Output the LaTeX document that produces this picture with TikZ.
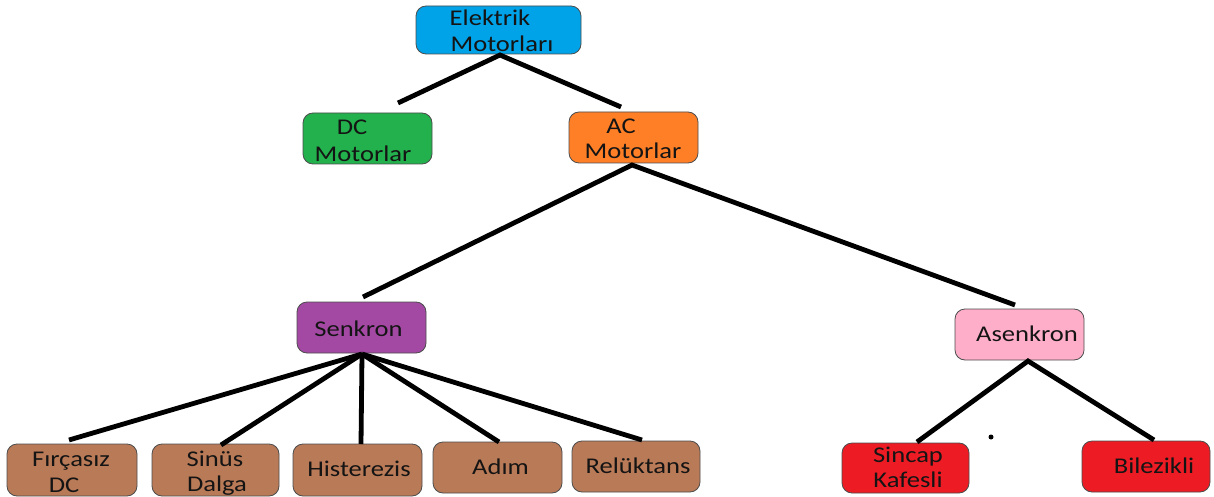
\documentclass[tikz,border=0pt]{standalone}
\usepackage{fontspec}
\setmainfont{Carlito}[FakeStretch=1.18]
\definecolor{cElek}{RGB}{0,162,232}
\definecolor{cDC}{RGB}{34,177,76}
\definecolor{cAC}{RGB}{255,127,39}
\definecolor{cSenk}{RGB}{163,73,164}
\definecolor{cAsenk}{RGB}{255,174,201}
\definecolor{cBrown}{RGB}{185,122,87}
\definecolor{cRed}{RGB}{237,28,36}
\definecolor{cText}{RGB}{20,20,20}
\tikzset{
  box/.style={draw=black!70, line width=0.8pt, rounded corners=10pt, inner sep=0pt},
  lbl/.style={anchor=base, inner sep=0pt, text=cText, font=\fontsize{22.5}{27}\selectfont},
  link/.style={line width=4.8pt, black}
}
\begin{document}
\begin{tikzpicture}[x=1pt,y=-1pt]
\useasboundingbox (0,0) rectangle (1214,497);

% boxes
\node[box, fill=cElek,  minimum width=165pt, minimum height=48pt] (elek)  at (498.5,30) {};
\node[box, fill=cDC,    minimum width=129pt, minimum height=51pt] (dc)    at (367.5,138.5) {};
\node[box, fill=cAC,    minimum width=129pt, minimum height=51pt] (ac)    at (633.5,137.5) {};
\node[box, fill=cSenk,  minimum width=129pt, minimum height=51pt] (senk)  at (361.5,327.5) {};
\node[box, fill=cAsenk, minimum width=129pt, minimum height=51pt] (asenk) at (1019.5,334.5) {};
\node[box, fill=cBrown, minimum width=130pt, minimum height=52pt] (firc)  at (72,470) {};
\node[box, fill=cBrown, minimum width=127pt, minimum height=52pt] (sinus) at (215.5,470) {};
\node[box, fill=cBrown, minimum width=129pt, minimum height=52pt] (hist)  at (357.5,470) {};
\node[box, fill=cBrown, minimum width=129pt, minimum height=51pt] (adim)  at (497.5,467.5) {};
\node[box, fill=cBrown, minimum width=128pt, minimum height=51pt] (rel)   at (636,466.5) {};
\node[box, fill=cRed,   minimum width=127pt, minimum height=50pt] (sinc)  at (905.5,468) {};
\node[box, fill=cRed,   minimum width=128pt, minimum height=51pt] (bilez) at (1146,466.5) {};

% labels
\node[lbl] (elek-1)  at (490,26)  {Elektrik};
\node[lbl] (elek-2)  at (502,52)  {Motorları};
\node[lbl] (dc-1)    at (352,135) {DC};
\node[lbl] (dc-2)    at (363,161) {Motorlar};
\node[lbl] (ac-1)    at (621,134) {AC};
\node[lbl] (ac-2)    at (633,159) {Motorlar};
\node[lbl] (senk-1)  at (358.5,336) {Senkron};
\node[lbl] (asenk-1) at (1027,341) {Asenkron};
\node[lbl] (firc-1)  at (71,466)  {Fırçasız};
\node[lbl] (firc-2)  at (64,492)  {DC};
\node[lbl] (sinus-1) at (215,466) {Sinüs};
\node[lbl] (sinus-2) at (217,491) {Dalga};
\node[lbl] (hist-1)  at (359,476) {Histerezis};
\node[lbl] (adim-1)  at (500.5,474) {Adım};
\node[lbl] (rel-1)   at (638,473) {Relüktans};
\node[lbl] (sinc-1)  at (908,462) {Sincap};
\node[lbl] (sinc-2)  at (908,487) {Kafesli};
\node[lbl] (bilez-1) at (1154,473) {Bilezikli};

% branch points under the parent boxes
\coordinate (elek-b)  at (500,55);
\coordinate (ac-b)    at (632,165);
\coordinate (senk-b)  at (362,354);
\coordinate (asenk-b) at (1028,361);
% line ends just above the child boxes
\coordinate (dc-t)    at (398,103);
\coordinate (ac-t)    at (621,107);
\coordinate (senk-t)  at (363,297);
\coordinate (asenk-t) at (1015,305);
\coordinate (firc-t)  at (69,440);
\coordinate (sinus-t) at (221,445);
\coordinate (hist-t)  at (361,444);
\coordinate (adim-t)  at (499,442);
\coordinate (rel-t)   at (642,440);
\coordinate (sinc-t)  at (917,442);
\coordinate (bilez-t) at (1154,440);

% connectors
\draw[link] (dc-t) -- (elek-b) -- (ac-t);
\draw[link] (senk-t) -- (ac-b) -- (asenk-t);
\foreach \c in {firc,sinus,hist,adim,rel}
  \draw[link] (senk-b) -- (\c-t);
\draw[link] (sinc-t) -- (asenk-b) -- (bilez-t);

% stray dot
\fill[black] (991,437) circle (2.5pt);
\end{tikzpicture}
\end{document}
